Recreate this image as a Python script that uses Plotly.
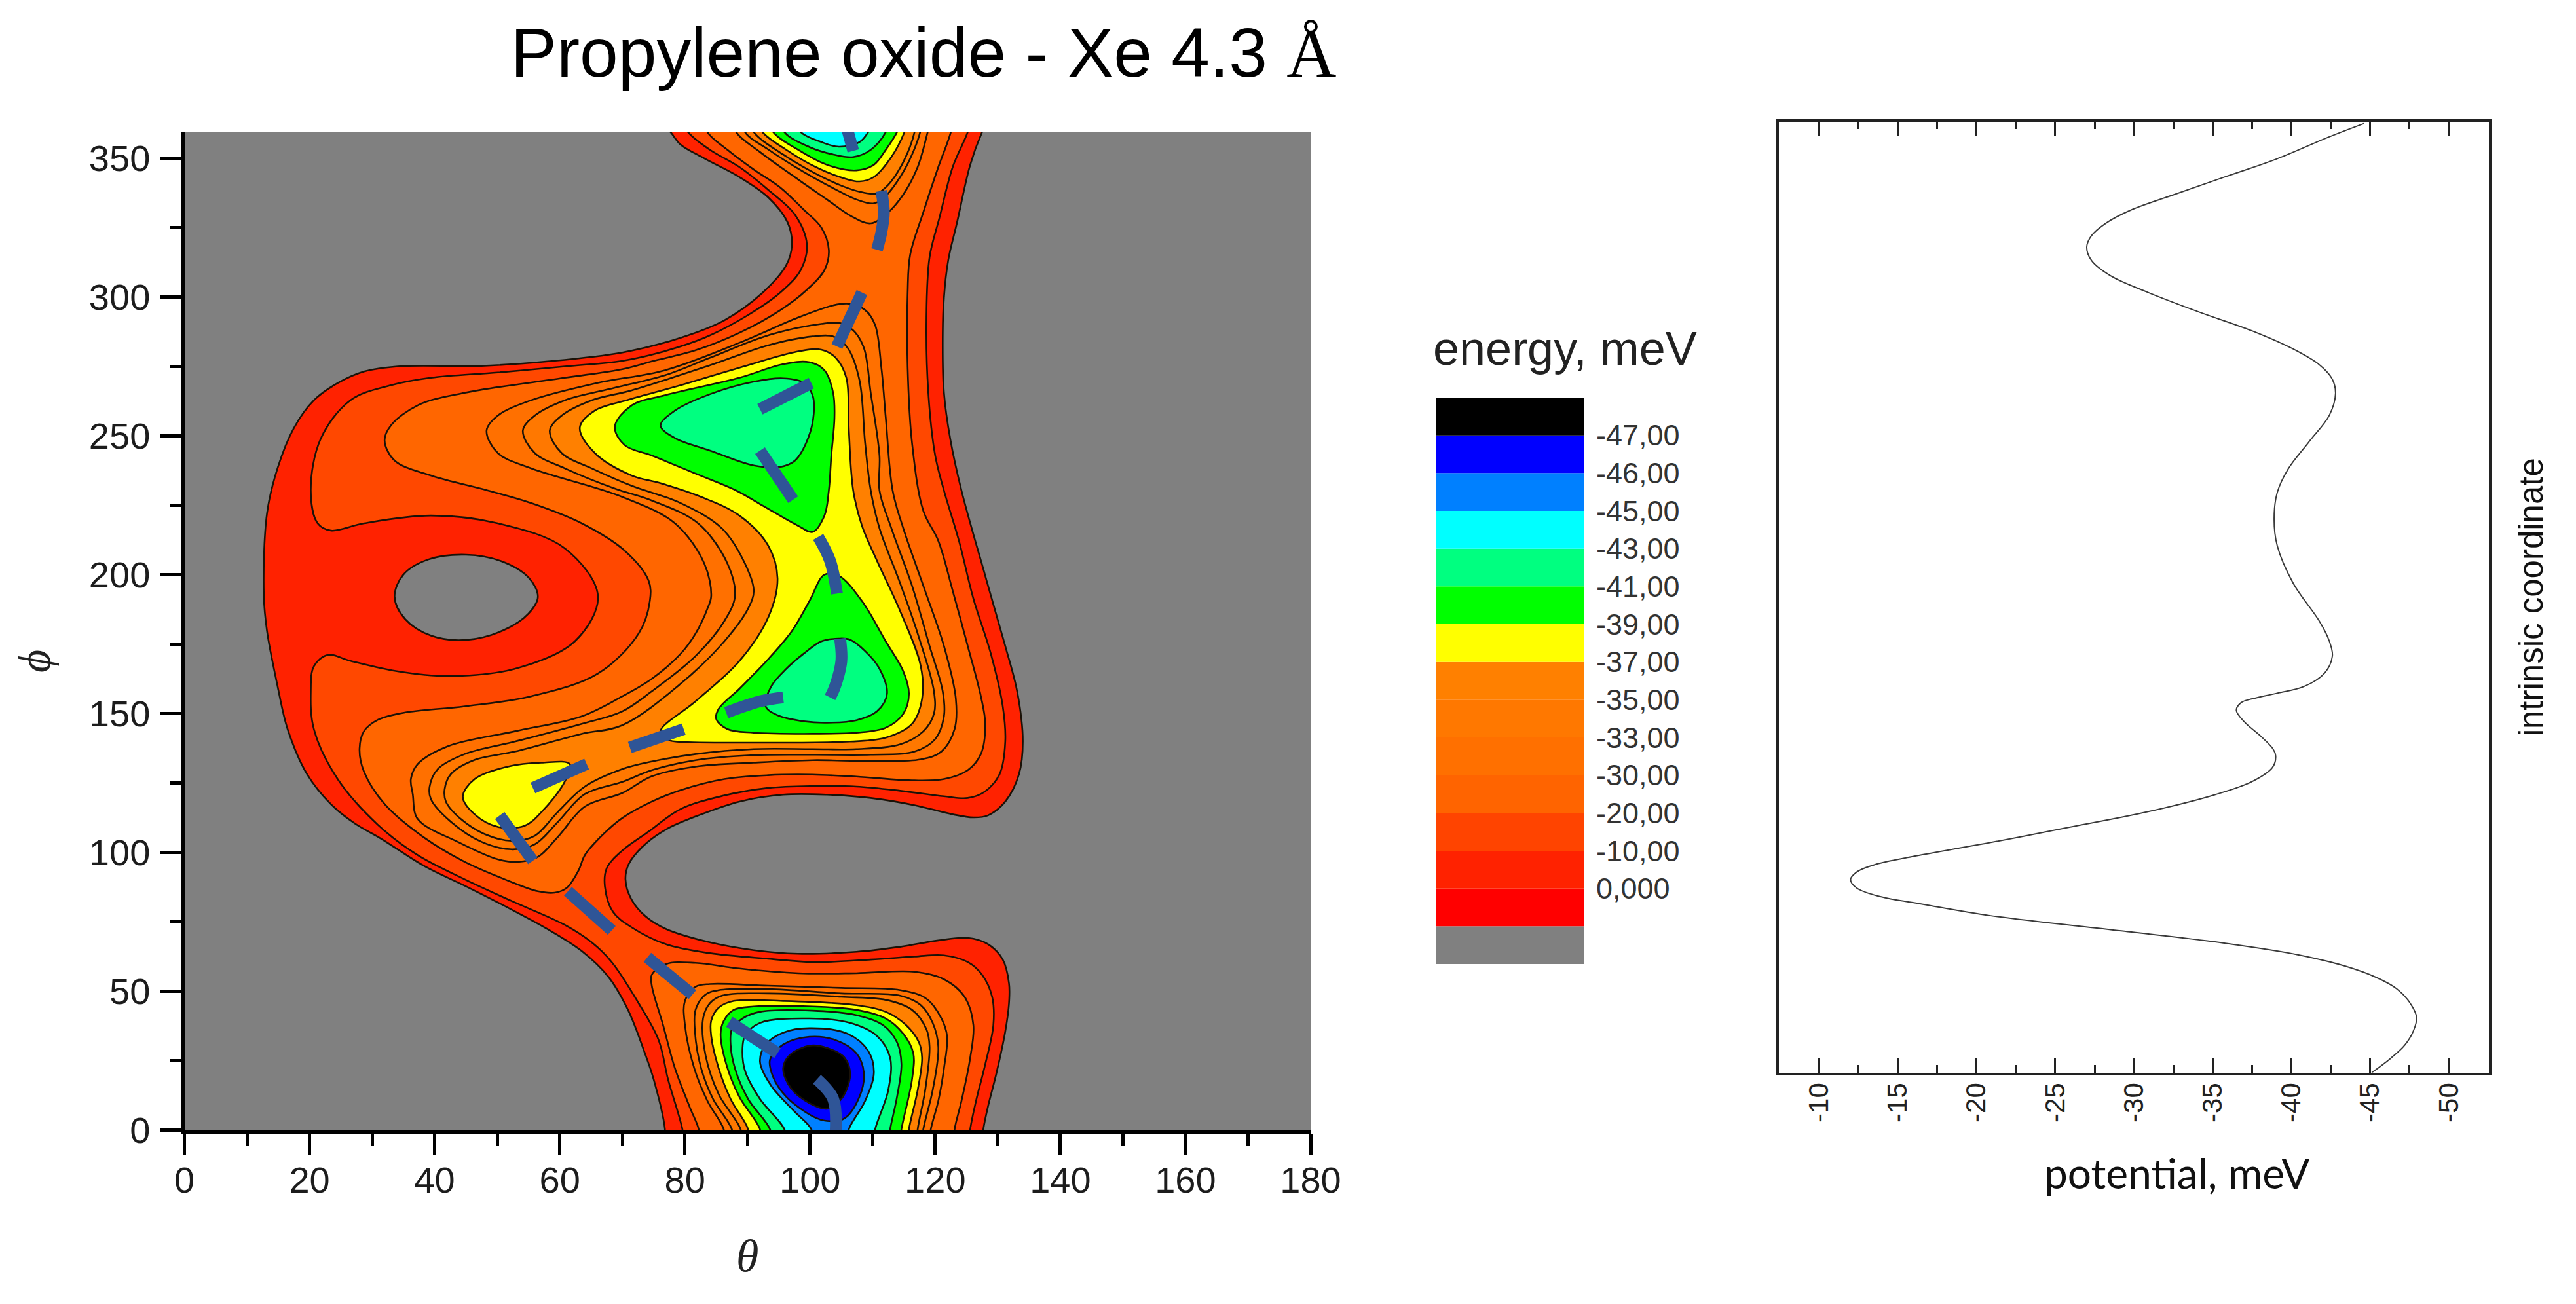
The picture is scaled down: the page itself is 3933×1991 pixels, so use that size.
import plotly.graph_objects as go

W, H = 3933, 1991

# ---------- contour outlines: (theta, phi) ----------
A_OUTER = [(76.8,-6),(76.8,0.5),(75,18.3),(73.6,27.7),(70.9,43.3),(67.8,55.1),(63.5,64.5),(58.1,72.3),(52.3,79.4),(44.8,88),(38.4,95),(31.4,105),(27.2,110.5),(23.4,117.4),(19.6,128.2),(16.5,144.4),(14.9,159.8),(13.2,179.8),(12.7,192.3),(13.2,222),(14.9,238.4),(17.5,252.8),(20.7,262.8),(24.5,269),(28.8,273.2),(34.1,275),(47.5,275.2),(58.1,276.8),(70,280),(79.3,285.3),(86.3,291.6),(92.4,301.5),(96.2,311.5),(97.1,318.8),(96.4,326.9),(93.3,335.9),(88.7,343.2),(83.1,349.9),(79.3,354.9),(77.7,359.4),(75,366),(129,366),(127.5,359.4),(125.6,347.6),(123.5,326.9),(122.1,313.4),(121.4,299.8),(121.2,283.6),(121.4,265.5),(122.4,249),(124.2,230.3),(128,199.6),(131.2,174.3),(133.1,158),(134,140),(133.4,128.2),(131.2,118.3),(128.4,113.3),(126.1,112.6),(122.8,113.7),(116.7,117),(109.7,119.6),(102.7,120.8),(95.7,120.8),(88.7,118.3),(82.6,113.7),(77,108.3),(73.2,102),(71,95.7),(70.5,90.3),(71.4,83.3),(73.7,77),(77,72.4),(84,67.6),(91,64.8),(98,63.5),(107.4,64.2),(114.4,66),(120.5,68.3),(125.2,69.2),(128.4,67),(130.8,61.4),(131.8,52.8),(131.8,45.7),(131.2,35.5),(129.8,20.6),(128.4,8.1),(127.7,0.4),(127.4,-6),(76.8,-6)]
GRAY_HOLE = [(33.6,192),(35,200),(39,205.5),(45,207.2),(50.5,205),(55,199),(56.5,192),(55,186),(51,180),(45,176.5),(39.5,178),(35.3,184),(33.6,192)]
B_MAIN = [(79.9,-6),(79.6,0.3),(77.3,18.3),(75.8,32.4),(72.6,45.7),(68.3,60.5),(65.1,67.6),(60.8,73.9),(52.3,82.5),(44.8,90.3),(37.3,99),(30.9,110),(24.5,126.4),(20.7,144.4),(20.2,158),(20.7,167),(22.9,171.1),(26.6,168.9),(34.1,165.2),(42.1,163.5),(52.8,166.1),(62.4,176),(66.1,192.3),(60.8,209.5),(50.1,218.5),(39.4,221.3),(28.7,218.5),(23.4,215.9),(21.3,218.5),(20.2,230.3),(21.8,249),(26.6,262.9),(33,268.2),(39.4,270.9),(50.1,272.8),(60.8,275),(70,277),(76,280),(83.1,285.3),(90.1,293.5),(95.2,301.5),(98.5,309.7),(99.5,318.8),(97.6,329.6),(93.3,338.6),(88.7,346.8),(84,353),(80.5,359.4),(79,366),(126,366),(125.2,359.4),(122.8,346.8),(120.7,328.7),(119.1,314.3),(118.6,292.6),(118.9,265.5),(120,242.9),(121.4,230.3),(123.8,212.2),(126.1,191.4),(128.9,171.5),(130.8,152.6),(131.2,139.9),(130.3,128.2),(128,122),(125.2,119.6),(121.4,120.2),(114.4,122.2),(107.4,123.7),(100.4,123.9),(93.3,123.2),(86.3,120.5),(79.3,115.6),(74.2,107.5),(69.9,100.5),(67.5,94.3),(67.2,87.9),(68.5,78.6),(71.5,73),(77,66.9),(84,63.7),(93.3,61.7),(100.4,60.5),(109.7,61.4),(116.7,62.5),(121.4,62.9),(125.2,60.5),(127.5,55.9),(129.1,48),(129.3,37.8),(128,23.7),(126.6,11.2),(125.6,0.3),(125.4,-6),(79.9,-6)]
C_LOWER = [(74.7,55.9),(77,59.8),(81.7,60.2),(88.7,58.2),(98.1,56.5),(107.4,56.5),(116.7,57),(121.4,54.3),(124.7,48),(126.1,37.9),(125.6,26.1),(124.2,10.5),(123.1,0.3),(122.9,-6),(82.4,-6),(82.2,0.3),(80.8,8.1),(78.4,22.3),(76.5,37.9),(74.7,52.1),(74.7,55.9)]
C_UPPER = [(83,366),(83.6,359.4),(86.8,353),(91,345.9),(95.2,339.5),(99,331.4),(101.8,325),(103,316.9),(102.3,309.7),(99.4,302.4),(95.2,295.2),(88.7,287.1),(81.7,280.8),(74.7,276.8),(70,274),(60.8,270.9),(44.8,265.5),(37.3,261),(33,253.7),(32,248.3),(33.6,241.1),(39.4,235.7),(48.5,230.3),(55.4,225.8),(63.5,218.5),(70.4,208.6),(74.2,197.8),(74.4,190.6),(72.6,178.8),(66.1,164.4),(55.4,156.2),(44.8,152.6),(35.1,150.3),(30.9,147.7),(28.7,143.6),(28,137.3),(28.7,129.1),(32,117.4),(38.4,105.2),(44.8,96.6),(51.2,90.3),(56.5,86),(59.2,85.5),(61.1,87.2),(63,93.5),(64,99),(66.7,106),(70,112.4),(74.7,118.3),(79.3,122.4),(86.3,126.4),(93.3,127.8),(100.4,128),(107.4,127.3),(116.7,125.9),(121.4,126.4),(125.2,129.6),(127.3,135.4),(128,146.2),(127.3,156.2),(125.2,174.3),(122.8,194.2),(120.5,212.2),(118.1,223),(116.3,247.4),(115.6,274.5),(115.6,301.6),(116,315.2),(118.1,330.5),(120.5,346.8),(122.5,359.4),(123,366),(83,366)]
D_TOP = [(87.5,366),(88.2,359.4),(92,352.2),(98.1,342.3),(102.7,335.1),(106.5,329.2),(109.7,326.5),(112.5,330.5),(114.9,336.9),(117.2,346.8),(118.8,359.4),(119.5,366),(87.5,366)]
E_TOP = [(89,366),(89.6,359.4),(93.4,353),(99,345),(104.1,338.7),(107.4,335.1),(110.2,333.7),(112.1,336.4),(114.4,343.2),(116.3,351.3),(117.6,359.4),(118,366),(89,366)]
F_TOP = [(90,366),(91,359.4),(95.7,351.3),(100.4,345),(105.1,340),(108.3,337.7),(110.7,337.3),(112.5,340.4),(114.9,348.6),(116.7,359.4),(117,366),(90,366)]
G_TOP = [(91,366),(92.4,359.4),(96.2,353),(100.9,346.8),(105.5,342.7),(107.9,341.6),(110.2,343.2),(113,350.4),(115.1,359.4),(116,366),(91,366)]
H_TOP = [(93,366),(94.1,359.4),(98.1,353),(102.7,347.6),(107.4,345.6),(110.2,347.6),(112.1,353),(113.9,359.4),(115,366),(93,366)]
I_TOP = [(95,366),(95.9,359.4),(99.9,354),(103.7,351.3),(106.9,350.4),(109.7,353),(112.1,359.4),(113,366),(95,366)]
J_TOP = [(97,366),(98.5,359.4),(101.8,355.8),(104.6,354.1),(107.9,355.8),(109.3,359.4),(110.5,366),(97,366)]
D_MIDDLE = [(48.3,251.9),(50.1,257.3),(55.4,262.8),(66.1,269.1),(76.8,273.6),(88.7,283.5),(98.1,292.6),(103.7,297),(106.2,297.6),(108.8,295.3),(110.4,289.9),(111.4,274.5),(112.1,256.5),(113.2,230.3),(114.9,216.7),(118.1,196),(121.4,174.3),(123.3,155.3),(123.1,144.4),(121,136.3),(117.7,133.5),(109.7,132.9),(100.4,133.2),(91,132.3),(81.7,130.9),(74.7,127.4),(70,121.4),(64,116.5),(59.7,105.6),(56.5,98.4),(53.3,96.6),(50.1,97.5),(43.7,103.8),(37.3,112),(36.5,121),(36.2,126.4),(37.3,131.8),(42.1,138.2),(52.8,143.6),(63.5,149),(70,156.2),(74.7,162.5),(79.3,171.5),(81.7,178.8),(83.6,187.8),(84.2,192.3),(83.1,204),(78.4,218.5),(70,228),(55.4,238.3),(50.1,243.8),(48.3,251.9)]
E_MIDDLE = [(54.1,251.9),(56,257.3),(60.8,262.8),(68.8,267.3),(76.8,271.8),(84,278.1),(93.3,286.2),(101.8,290.3),(104.8,290.6),(106.9,288),(108.6,281.7),(109.7,265.4),(111.1,242.9),(111.1,230.3),(113,216.7),(116.3,196),(119.1,174.3),(121.2,158),(121.4,149),(120,140.8),(116.7,136.3),(109.7,135.2),(100.4,135.2),(91,135),(81.7,133.2),(74.7,129.6),(70,125.4),(64,121),(59.7,111),(56,102.9),(52.3,101.1),(47.5,103.8),(42.6,111),(39.4,119.2),(39.2,123.7),(40.5,130),(44.8,135.4),(52.8,139.9),(63.5,146.3),(70,150.8),(74.7,158),(81.7,170.7),(86.3,183.3),(88,192.3),(86.8,204),(82.1,218.5),(74.7,226.7),(68.8,231),(60.8,238.3),(56,243.8),(54.1,251.9)]
F_MIDDLE = [(58.4,251.9),(60.3,257.3),(65.1,262.8),(71.5,266.4),(84,275.4),(93.3,282.6),(100.4,285.8),(103.7,285.8),(106,281.7),(107.9,270),(108.8,247.4),(109.7,230.3),(111.1,216.7),(114.4,196.9),(117.2,178.8),(119.8,158),(119.8,149.9),(118.1,143.6),(114.4,138.9),(107.4,137.2),(100.4,137.2),(91,137.2),(81.7,135.4),(74.7,132.7),(70,130),(64,123.7),(59.7,114.6),(56,106),(52.3,104.2),(48,106.6),(44.2,112),(41.8,118.3),(41.6,122.8),(42.6,128.2),(46.4,133.3),(52.8,136.3),(63.5,142.7),(70,145.8),(79.3,160.7),(86.3,176),(90.1,187.8),(91,194.2),(89.6,204),(85.9,216.7),(79.3,225.8),(71.5,232),(65.1,238.3),(60.3,243.8),(58.4,251.9)]
G_MIDDLE = [(63.2,253),(65.6,259.1),(71,263),(79.3,268.2),(88.7,274.5),(98.1,280.4),(101.8,281),(104.1,278.1),(105.8,270.9),(106.2,251.9),(106.9,230.3),(108.3,217.6),(110.7,205),(114.4,186.9),(117.7,167),(117.9,155.3),(116.3,146.3),(112.1,141.3),(106.4,139.9),(91,139.5),(79.3,139.8),(77.5,140.4),(76.1,143.6),(81.7,154.4),(88.7,168.9),(93.4,185.1),(94.8,198.7),(93.3,210.5),(88.7,221.3),(82.6,228),(76,233),(71.5,235.7),(65.6,243.8),(63.2,253)]
G_LOBE = [(44.5,120),(46.4,126.4),(51.7,130.9),(57.1,132.3),(61.6,131.8),(60.8,125.5),(57.1,114.6),(54.4,109.6),(50.1,109.2),(46.4,113.7),(44.5,120)]
H_UPPER = [(68.8,253.3),(71.5,261),(76.8,264.6),(88.7,270.9),(95.7,275.8),(99.9,276.5),(102.3,273.6),(103.7,265.4),(103.9,256.5),(103.4,242.9),(103,230.3),(102.3,221.3),(100.4,215.4),(98.1,217.6),(92.4,224.9),(88.2,230.3),(81.7,236.4),(74.7,242.9),(70.4,246.6),(68.8,253.3)]
I_UPPER = [(76.1,253.7),(78.4,259.1),(84,265),(91,269.5),(95.7,270.7),(99,269.1),(100.4,264.6),(100.6,258.2),(99.7,249.2),(97.6,241.1),(95.2,238.8),(91,239.3),(84,244.7),(78.4,249.2),(76.1,253.7)]
H_LOWER = [(102.3,200),(99.9,190.5),(97.1,179.7),(93.4,169.8),(88.7,158.9),(85.4,151.7),(85,148.1),(86.8,144.4),(91,143.1),(100.4,142.7),(107.4,143.1),(112.1,144.9),(114.9,149.9),(115.8,157.1),(114.9,165.2),(112.1,176),(108.3,190.5),(104.6,199.6),(102.3,200)]
I_LOWER = [(104.6,177),(101.8,176),(99,171.6),(96.2,166.1),(93.8,159.8),(92.9,152.6),(94.8,149.4),(99,147.2),(102.7,146.7),(107.4,147.6),(110.7,150.8),(112.3,157.1),(111.1,166.1),(108.8,172.5),(106.4,176.6),(104.6,177)]
D_BOTTOM = [(80,46.5),(81.7,51.6),(84,52.6),(93.3,52),(105,51.2),(114.4,50.4),(118.6,47.3),(121,40.2),(121.9,33.8),(121.4,22.2),(120.5,10.5),(119.3,0.3),(119,-6),(86.5,-6),(86.2,0.3),(83.6,10.5),(81.5,22.2),(80,37.9),(80,46.5)]
E_BOTTOM = [(81.6,35.5),(81.7,43.3),(83.3,48.8),(85.4,50.4),(93.4,50.8),(105,49.2),(114.4,48.4),(117.7,45),(119.6,38.6),(120.5,30),(119.6,14.4),(118.1,0.3),(117.8,-6),(87.8,-6),(87.5,0.3),(84.5,11.2),(82.6,22.2),(81.6,35.5)]
F_BOTTOM = [(83.3,26.9),(82.9,40.2),(84,45.7),(85.9,48.4),(93.4,49.2),(105,48),(112.1,46.9),(116.3,43.3),(118.6,36.3),(119.1,30),(118.4,14.4),(117.2,0.3),(117,-6),(89.2,-6),(88.9,0.3),(85.4,12.9),(83.3,26.9)]
G_BOTTOM = [(84.2,33.9),(84.2,39.4),(85.4,44.1),(87.8,46.5),(95.7,46.5),(107.4,45),(112.1,42.6),(115.3,37.9),(117.4,31.6),(117.9,26.1),(117.2,14.4),(115.8,0.3),(115.5,-6),(90.4,-6),(90.1,0.3),(87.3,11.2),(85.4,22.2),(84.2,33.9)]
H_BOTTOM = [(85.7,34.7),(86.2,39.3),(87.8,43.3),(91,44.5),(100.4,44.5),(107.4,43.3),(112.1,40.2),(114.9,34.7),(116.5,27.7),(116.3,18.3),(114.6,0.3),(114.2,-6),(92.3,-6),(92,0.3),(88.7,12),(86.6,23.8),(85.7,34.7)]
I_BOTTOM = [(87.3,30.8),(87.5,36.3),(89.2,40.2),(92,42.6),(100.4,43),(107.4,41.4),(111.6,37.9),(113.9,31.6),(114.6,23.8),(113.9,12),(112.8,0.3),(112.4,-6),(94,-6),(93.6,0.3),(90.1,11.2),(88,22.2),(87.3,30.8)]
J_BOTTOM = [(89.2,29.2),(89.6,33.9),(92,38.6),(99.9,40.2),(106.4,38.6),(110.7,33.9),(112.8,26.1),(112.5,14.4),(110.4,0.3),(110,-6),(96.4,-6),(95.9,0.3),(92,11.2),(89.6,21.4),(89.2,29.2)]
K_BOTTOM = [(92,24.6),(92.9,30.8),(95.7,35.1),(99.9,36.7),(106,34.7),(109.3,28.5),(110.2,20.6),(108.8,10.5),(106.2,0.3),(105.8,-6),(100.6,-6),(100.2,0.3),(97.6,6.5),(93.8,15.9),(92,24.6)]
L_BOTTOM = [(99.9,33.6),(95.7,30.8),(93.6,25.4),(94.1,19.1),(96.2,12),(100.4,5),(102.7,3.3),(105.5,4.2),(107.9,12),(108.6,20.6),(107.4,27.7),(104.1,32.4),(99.9,33.6)]
M_BOTTOM = [(99.9,30.4),(96.7,26.9),(95.7,22.2),(96.9,15.2),(99.9,9.7),(102.7,7.7),(105,11.2),(106.4,19.9),(105.5,26.1),(102.7,29.6),(99.9,30.4)]

# dashed reaction path, one list per dash
PATH_DASHES = [
    [(106,360),(106.9,352.6)],
    [(111.4,338.2),(111.8,330.5),(111.4,323.3),(110.7,317)],
    [(108.3,301.6),(104.3,282.2)],
    [(100.2,269),(92,259.6)],
    [(92,244.7),(97.3,227)],
    [(101.3,213.6),(103.2,205),(104.3,193.2)],
    [(104.8,177),(105,168.9),(104,159.8),(103.2,155.8)],
    [(95.7,155.8),(92,154.4),(86.6,150.3)],
    [(79.8,144.4),(71.2,137.8)],
    [(64.3,131.8),(55.7,123.2)],
    [(50.4,113.3),(55.7,97)],
    [(61.3,86),(68.3,71.9)],
    [(74,62.2),(81.2,48.8)],
    [(87.1,39),(94.8,27.7)],
    [(101.1,18.3),(103.7,11.2),(104.1,0)],
]

# ---------- right-hand potential curve ----------
POTENTIAL = [-44.6,-42.4,-39.1,-35.8,-32.5,-29.8,-28.2,-27.3,-27.0,-27.3,-28.5,-30.8,-34.1,-37.5,-40.1,-41.8,-42.6,-42.8,-42.4,-41.1,-39.8,-39.1,-38.9,-39.1,-40.1,-41.8,-42.4,-42.6,-42.1,-40.8,-39.1,-37.5,-36.8,-36.5,-37,-38.1,-38.8,-39,-38.8,-37.5,-35.1,-30.8,-25.9,-20.9,-15.9,-13.6,-12.4,-12,-12.4,-13.9,-16.6,-20.9,-29.2,-35.8,-40.4,-43.4,-45.4,-46.7,-47.5,-47.95,-47.75,-47.2,-46.3,-45.1]
INTRINSIC = [99.8,98.4,96.1,94.2,92.3,90.7,89.3,88,86.8,85.4,83.8,82.1,80,78,76.1,74.4,72.9,71.4,69.1,66.3,63.5,61,58.2,55.4,51.5,47.4,45.4,43.8,42,40.6,39.9,39.3,38.9,38.1,36.9,35.3,34.1,33.3,32.1,30.6,29.2,27.4,25.8,24.2,22.7,21.9,21.1,20.3,19.4,18.5,17.7,16.5,14.9,13.6,12.4,11.2,10,8.8,7.4,5.8,4.4,2.9,1.5,0]
POT_TICKS = [-10,-15,-20,-25,-30,-35,-40,-45,-50]
POT_TICK_TEXT = ["-10","-15","-20","-25","-30","-35","-40","-45","-50"]
POT_MINOR = [-12.5,-17.5,-22.5,-27.5,-32.5,-37.5,-42.5,-47.5]

# ---------- colour key, bottom to top ----------
KEY_COLORS = ["#808080","#FF0000","#FF2200","#FF4400","#FF6400","#FF7000","#FF7800","#FF8000","#FFFF00","#00FF00","#00FF80","#00FFFF","#0080FF","#0000FF","#000000"]
KEY_LABELS = ["0,000","-10,00","-20,00","-30,00","-33,00","-35,00","-37,00","-39,00","-41,00","-43,00","-45,00","-46,00","-47,00"]

GRAY = "#808080"
LEVEL_FILL = {"A":"#FF2200","B":"#FF4800","C":"#FF6600","D":"#FF7000","E":"#FF7800","F":"#FF8000",
              "G":"#FFFF00","H":"#00FF00","I":"#00FF80","J":"#00FFFF","K":"#0080FF","L":"#0000FF","M":"#000000"}
DRAW_ORDER = [("A",A_OUTER),("gray",GRAY_HOLE),("B",B_MAIN),("C",C_LOWER),("C",C_UPPER),
              ("D",D_TOP),("D",D_MIDDLE),("D",D_BOTTOM),("E",E_TOP),("E",E_MIDDLE),("E",E_BOTTOM),
              ("F",F_TOP),("F",F_MIDDLE),("F",F_BOTTOM),("G",G_TOP),("G",G_MIDDLE),("G",G_LOBE),("G",G_BOTTOM),
              ("H",H_TOP),("H",H_UPPER),("H",H_LOWER),("H",H_BOTTOM),("I",I_TOP),("I",I_UPPER),("I",I_LOWER),("I",I_BOTTOM),
              ("J",J_TOP),("J",J_BOTTOM),("K",K_BOTTOM),("L",L_BOTTOM),("M",M_BOTTOM)]

fig = go.Figure()
for level, poly in DRAW_ORDER:
    fill = GRAY if level == "gray" else LEVEL_FILL[level]
    fig.add_trace(go.Scatter(x=[p[0] for p in poly], y=[p[1] for p in poly], mode="lines", fill="toself",
                             fillcolor=fill, line=dict(color="#1a1208", width=2.6, shape="spline", smoothing=1.0, simplify=False),
                             hoverinfo="skip", showlegend=False, xaxis="x", yaxis="y"))
dx, dy = [], []
for dash in PATH_DASHES:
    dx += [p[0] for p in dash] + [None]
    dy += [p[1] for p in dash] + [None]
fig.add_trace(go.Scatter(x=dx, y=dy, mode="lines", line=dict(color="#2F5597", width=18, shape="spline", simplify=False),
                         showlegend=False, xaxis="x", yaxis="y"))

fig.add_trace(go.Scatter(x=POTENTIAL, y=INTRINSIC, mode="lines", line=dict(color="#3a3a3a", width=2, shape="spline", simplify=False),
                         showlegend=False, xaxis="x2", yaxis="y2"))

fig.add_trace(go.Bar(x=[0]*len(KEY_COLORS), y=[1]*len(KEY_COLORS), base=list(range(len(KEY_COLORS))),
                     width=1, marker=dict(color=KEY_COLORS, line=dict(width=0)), showlegend=False,
                     xaxis="x3", yaxis="y3"))

def px(x): return x / W
def py(y): return 1 - y / H

font_main = "Liberation Sans"
tf = dict(family=font_main, size=56, color="#1c1c1c")

fig.update_layout(
    width=W, height=H, margin=dict(l=0, r=0, t=0, b=0, autoexpand=False), paper_bgcolor="white", plot_bgcolor="white",
    barmode="overlay", showlegend=False,
    title=dict(text='Propylene oxide - Xe 4.3 <span style="font-family:\'Liberation Serif\'">Å</span>',
               font=dict(family=font_main, size=105.5, color="#000"),
               x=1410/W, xanchor="center", y=py(80), yanchor="middle", xref="paper", yref="paper"),
    xaxis=dict(domain=[px(281.5), px(2001)], range=[0,180], dtick=20, tick0=0, ticks="outside", ticklen=31, tickwidth=4.5,
               tickcolor="black", showline=True, linecolor="black", linewidth=6, showgrid=False, zeroline=False, automargin=False,
               tickfont=tf, ticklabelstandoff=-9, anchor="y",
               minor=dict(dtick=10, ticks="outside", ticklen=17, tickwidth=4.5, tickcolor="black", showgrid=False),
               title=dict(text="<i>θ</i>", font=dict(family="Liberation Serif", size=70, color="#222"), standoff=62)),
    yaxis=dict(domain=[py(1725.5), py(202)], range=[0,359.3], tickvals=[0,50,100,150,200,250,300,350], ticks="outside", ticklen=31, tickwidth=4.5,
               tickcolor="black", showline=True, linecolor="black", linewidth=6, showgrid=False, zeroline=False, automargin=False,
               tickfont=tf, ticklabelstandoff=4, anchor="x",
               minor=dict(tickvals=[25,75,125,175,225,275,325], ticks="outside", ticklen=17, tickwidth=4.5, tickcolor="black", showgrid=False)),
    xaxis2=dict(domain=[px(2716), px(3800)], range=[-7.45,-52.54], tickvals=POT_TICKS, ticktext=POT_TICK_TEXT,
                ticks="inside", ticklen=22, tickwidth=2.5, tickcolor="#222", showline=True, linecolor="#222", linewidth=3.5,
                mirror="allticks", showgrid=False, zeroline=False, tickangle=-90, automargin=False,
                tickfont=dict(family=font_main, size=42, color="#222"), ticklabelstandoff=-5, anchor="y2",
                minor=dict(tickvals=POT_MINOR, ticks="inside", ticklen=12, tickwidth=2.5, tickcolor="#222", showgrid=False)),
    yaxis2=dict(domain=[py(1637.7), py(185.7)], range=[0,100], showticklabels=False, ticks="", showline=True, linecolor="#222",
                linewidth=3.5, mirror=True, showgrid=False, zeroline=False, anchor="x2", side="right", automargin=False,
                title=dict(text="intrinsic coordinate", font=dict(family=font_main, size=51, color="#111"), standoff=45)),
    xaxis3=dict(domain=[px(2193), px(2419)], range=[-0.5,0.5], visible=False, anchor="y3", automargin=False),
    yaxis3=dict(domain=[py(1472), py(607)], range=[0,len(KEY_COLORS)], side="right", anchor="x3", automargin=False,
                tickvals=list(range(2, 2+len(KEY_LABELS))), ticktext=KEY_LABELS, ticks="outside", ticklen=8,
                tickcolor="rgba(0,0,0,0)", showline=False, showgrid=False, zeroline=False,
                tickfont=dict(family=font_main, size=45, color="#333")),
    annotations=[
        dict(text="<i>ϕ</i>", x=px(53), y=py(1010), xref="paper", yref="paper", showarrow=False, textangle=-90,
             xanchor="center", yanchor="middle", font=dict(family="Liberation Serif", size=68, color="#222")),
        dict(text="energy, meV", x=px(2389), y=py(532), xref="paper", yref="paper", showarrow=False,
             xanchor="center", yanchor="middle", font=dict(family=font_main, size=72, color="#222")),
        dict(text="potential, meV", x=px(3324), y=py(1790), xref="paper", yref="paper", showarrow=False,
             xanchor="center", yanchor="middle", font=dict(family="Lato", size=64, color="#111")),
    ],
    shapes=[dict(type="rect", xref="x", yref="y", x0=0, x1=180, y0=0, y1=359.3, fillcolor=GRAY, line=dict(width=0), layer="below")],
)

fig.write_html("out.html", config={"displayModeBar": False},
               post_script="document.body.style.margin='0';document.body.style.overflow='hidden';")
